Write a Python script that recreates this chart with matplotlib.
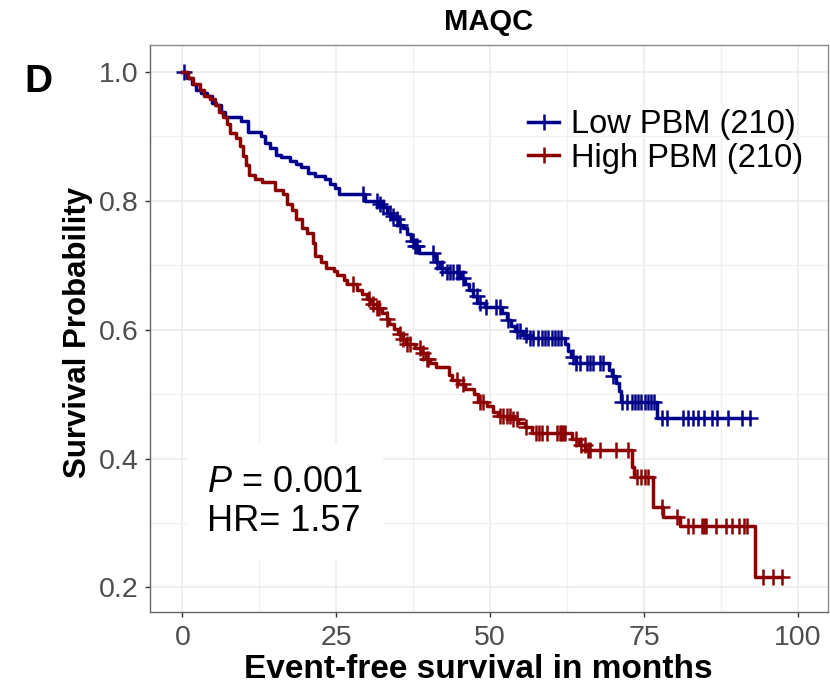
import numpy as np
import matplotlib
matplotlib.use("Agg")
import matplotlib.pyplot as plt
from matplotlib.lines import Line2D

plt.rcParams['font.family'] = ['Liberation Sans', 'DejaVu Sans']
plt.rcParams['mathtext.fontset'] = 'custom'
plt.rcParams['mathtext.rm'] = 'Liberation Sans'
plt.rcParams['mathtext.it'] = 'Liberation Sans:italic'

# Kaplan-Meier steps (time in months, survival after the drop)
low_t = [0, 0.8, 1.5, 2.2, 3.0, 4.0, 4.8, 5.5, 6.3, 7.0, 9.5, 10.7, 12.8, 13.5, 14.3,
         15.2, 16.0, 17.5, 18.5, 19.3, 20.5, 21.5, 23.2, 24.0, 24.8, 25.4, 29.7, 31.9,
         32.6, 33.2, 33.8, 34.5, 35.2, 35.9, 36.5, 37.2, 37.8, 38.5, 40.9, 41.2, 41.9,
         42.8, 45.2, 45.9, 46.5, 47.3, 47.9, 49.2, 52.0, 52.7, 53.4, 54.0, 55.3, 56.3,
         62.2, 62.7, 63.2, 64.0, 69.3, 69.8, 70.4, 70.9, 71.3, 77.2, 92.2]
low_s = [1.0, 0.990, 0.981, 0.971, 0.967, 0.962, 0.952, 0.948, 0.938, 0.929, 0.924,
         0.906, 0.900, 0.890, 0.881, 0.871, 0.867, 0.862, 0.857, 0.852, 0.843, 0.838,
         0.833, 0.826, 0.819, 0.810, 0.800, 0.795, 0.790, 0.781, 0.776, 0.771, 0.762,
         0.757, 0.748, 0.738, 0.729, 0.719, 0.714, 0.705, 0.696, 0.690, 0.680, 0.670,
         0.662, 0.652, 0.641, 0.635, 0.625, 0.615, 0.606, 0.598, 0.592, 0.587, 0.577,
         0.567, 0.557, 0.548, 0.538, 0.528, 0.517, 0.504, 0.488, 0.463, 0.463]

high_t = [0, 1.0, 1.8, 2.8, 3.6, 4.5, 5.3, 6.0, 6.6, 7.2, 7.7, 8.8, 9.3, 9.8, 10.3, 10.8,
          11.8, 13.0, 15.0, 16.4, 17.0, 17.8, 18.5, 19.4, 20.3, 21.2, 21.6, 22.6, 23.4,
          24.6, 25.2, 26.2, 26.8, 28.4, 29.2, 30.0, 30.7, 31.6, 32.4, 33.2, 33.6, 34.4,
          35.0, 35.8, 36.4, 37.8, 38.8, 39.6, 40.3, 41.2, 43.3, 43.8, 44.8, 46.0, 47.4,
          48.0, 49.5, 50.4, 51.3, 53.5, 54.5, 55.6, 56.8, 63.3, 64.4, 65.5, 73.0, 73.4,
          76.4, 78.1, 80.9, 93.0, 97.5]
high_s = [1.0, 0.990, 0.981, 0.971, 0.962, 0.957, 0.948, 0.938, 0.929, 0.919, 0.905,
          0.897, 0.885, 0.870, 0.855, 0.840, 0.834, 0.829, 0.816, 0.810, 0.795, 0.786,
          0.772, 0.758, 0.750, 0.734, 0.714, 0.705, 0.696, 0.691, 0.684, 0.677, 0.670,
          0.662, 0.655, 0.648, 0.640, 0.633, 0.625, 0.617, 0.609, 0.601, 0.593, 0.585,
          0.578, 0.572, 0.563, 0.554, 0.548, 0.542, 0.530, 0.522, 0.515, 0.508, 0.500,
          0.487, 0.481, 0.472, 0.466, 0.461, 0.455, 0.449, 0.440, 0.430, 0.421, 0.413,
          0.387, 0.372, 0.325, 0.310, 0.295, 0.216, 0.216]

# censored times
low_cens = [0.3, 29.4, 31.6, 32.1, 32.6, 33.7, 34.2, 34.9, 35.4, 37.5, 37.8, 38.1, 40.7,
            41.4, 42.2, 43.0, 43.5, 44.0, 44.6, 45.0, 45.6, 47.2, 47.8, 48.3, 49.4, 51.0,
            51.6, 52.9, 54.3, 54.8, 55.9, 56.5, 57.0, 57.8, 58.4, 58.9, 59.4, 60.0, 60.5,
            61.0, 61.6, 63.4, 64.0, 64.6, 65.7, 66.2, 66.7, 67.8, 68.3, 70.0, 71.4, 72.2,
            73.0, 73.5, 74.0, 74.6, 75.1, 75.6, 76.2, 76.7, 77.9, 78.8, 81.3, 82.1, 82.9,
            83.7, 84.8, 86.0, 86.9, 88.6, 91.0, 92.2]
high_cens = [27.8, 30.4, 31.0, 31.6, 32.0, 33.2, 35.4, 35.9, 36.5, 37.0, 38.6, 39.1, 39.7,
             39.9, 44.6, 45.6, 48.3, 48.8, 51.6, 52.1, 52.7, 53.2, 53.7, 54.3, 55.9, 57.5,
             58.0, 58.5, 59.2, 60.9, 61.3, 61.6, 61.8, 62.1, 63.9, 64.8, 65.4, 65.9, 66.2,
             67.8, 70.5, 72.4, 73.9, 74.6, 75.1, 75.6, 78.0, 80.3, 82.1, 82.9, 84.4, 84.8,
             85.1, 86.7, 88.4, 89.3, 90.5, 91.3, 91.8, 94.3, 95.9, 97.5]

labels = ["Low PBM (210)", "High PBM (210)"]
colors = ["#00008B", "#8B0000"]

fig = plt.figure(figsize=(8.3, 6.87), dpi=100)
ax = fig.add_axes([150/830, 1-612/687, 678/830, 567/687])

def surv_at(times, surv, c):
    idx = np.searchsorted(np.array(times), np.array(c), side='right') - 1
    return np.array(surv)[idx]

for t, s, cen, col in [(low_t, low_s, low_cens, colors[0]),
                       (high_t, high_s, high_cens, colors[1])]:
    ax.step(t, s, where='post', color=col, lw=2.5, zorder=3)
    ax.plot(cen, surv_at(t, s, cen), ls='none', marker='+', ms=11, mew=1.8,
            color=col, zorder=3)

ax.set_xlim(-5.25, 104.9)
ax.set_ylim(0.162, 1.0414)
ax.set_xticks([0, 25, 50, 75, 100])
ax.set_yticks([0.2, 0.4, 0.6, 0.8, 1.0])
ax.set_yticklabels(["0.2", "0.4", "0.6", "0.8", "1.0"])
ax.set_xticks([12.5, 37.5, 62.5, 87.5], minor=True)
ax.set_yticks([0.3, 0.5, 0.7, 0.9], minor=True)
ax.grid(which='major', color='#EBEBEB', lw=1.2)
ax.grid(which='minor', color='#F0F0F0', lw=0.9)
ax.set_axisbelow(True)
ax.tick_params(which='major', length=3.5, width=1.0, color='#333333',
               labelsize=20.5, labelcolor='#4D4D4D')
ax.tick_params(axis='x', pad=6)
ax.tick_params(axis='y', pad=5)
ax.tick_params(which='minor', length=0)
for sp in ax.spines.values():
    sp.set_color('#8C8C8C')
    sp.set_linewidth(1.0)
ax.spines['left'].set_color('#666666')
ax.spines['bottom'].set_color('#666666')

fig.text(489/830, 1-22/687, "MAQC", ha='center', va='center', fontsize=21,
         fontweight='bold')
fig.text(38/830, 1-82/687, "D", ha='center', va='center', fontsize=28,
         fontweight='bold')
fig.text(478/830, 1-669/687, "Event-free survival in months", ha='center',
         va='center', fontsize=24, fontweight='bold')
fig.text(78/830, 1-332/687, "Survival Probability", ha='center', va='center',
         rotation=90, fontsize=22.5, fontweight='bold')

handles = [Line2D([], [], color=c, lw=2.5, marker='+', ms=11, mew=1.8) for c in colors]
ax.legend(handles, labels, loc='upper left', bbox_to_anchor=(528/830, 1-109/687),
          bbox_transform=fig.transFigure, frameon=False, fontsize=23.5,
          handlelength=0.95, handletextpad=0.38, labelspacing=0.08,
          borderpad=0, borderaxespad=0)

ax.text((207-150)/678, (612-502)/567, "$\\it{P}$ = 0.001\nHR= 1.57",
        transform=ax.transAxes, ha='left', va='center', fontsize=26,
        linespacing=1.15, zorder=2,
        bbox=dict(boxstyle='square,pad=0.55', facecolor='white', edgecolor='none'))

fig.savefig("out.png", dpi=100)
